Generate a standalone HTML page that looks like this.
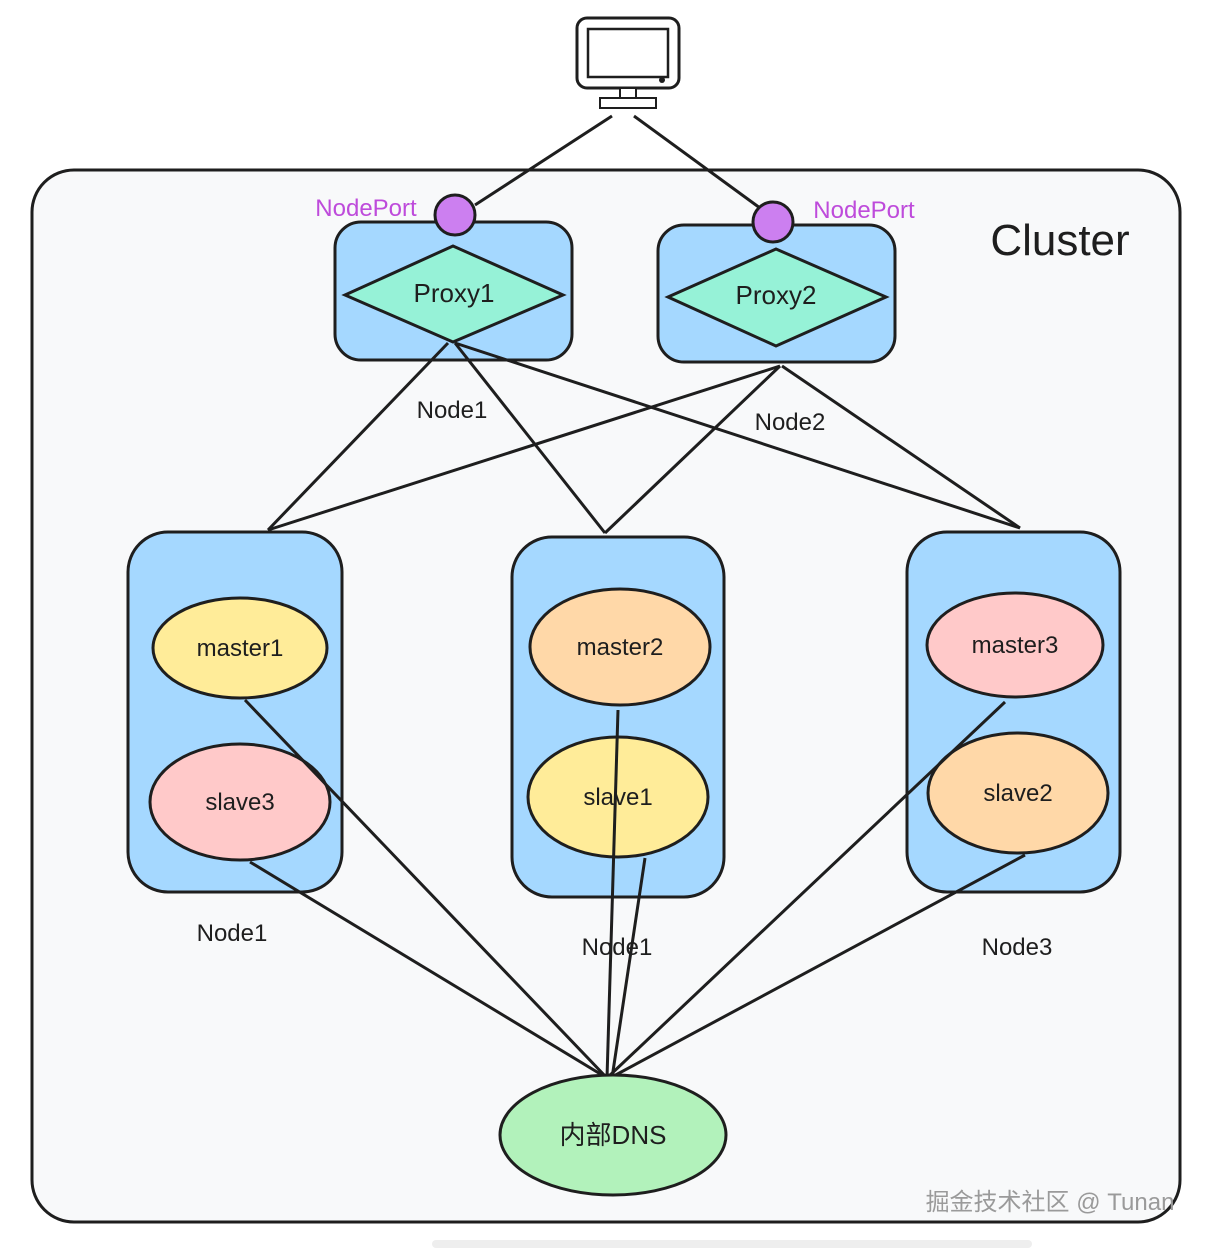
<!DOCTYPE html>
<html><head><meta charset="utf-8"><style>
html,body{margin:0;padding:0;background:#fff;}
svg{display:block;}
text{font-family:"Liberation Sans","Noto Sans CJK SC",sans-serif;}
</style></head><body>
<svg width="1212" height="1248" viewBox="0 0 1212 1248" xmlns="http://www.w3.org/2000/svg">
<rect x="32" y="170" width="1148" height="1052" rx="42" fill="#f8f9fa" stroke="#1e1e1e" stroke-width="3"/>
<!-- monitor -->
<rect x="577" y="18" width="102" height="70" rx="10" fill="#fff" stroke="#1e1e1e" stroke-width="3"/>
<rect x="588" y="29" width="80" height="48" fill="#fff" stroke="#1e1e1e" stroke-width="2.5"/>
<circle cx="662" cy="80" r="3" fill="#1e1e1e"/>
<rect x="620" y="88" width="16" height="10" fill="#fff" stroke="#1e1e1e" stroke-width="2"/>
<rect x="600" y="98" width="56" height="10" fill="#fff" stroke="#1e1e1e" stroke-width="2"/>
<!-- proxy boxes -->
<rect x="335" y="222" width="237" height="138" rx="26" fill="#a5d8ff" stroke="#1e1e1e" stroke-width="3"/>
<rect x="658" y="225" width="237" height="137" rx="26" fill="#a5d8ff" stroke="#1e1e1e" stroke-width="3"/>
<polygon points="345,295 453,246 563,295 453,342" fill="#96f2d7" stroke="#1e1e1e" stroke-width="3"/>
<polygon points="668,297 776,249 886,297 776,346" fill="#96f2d7" stroke="#1e1e1e" stroke-width="3"/>
<text x="454" y="302" font-size="26" text-anchor="middle" fill="#1e1e1e">Proxy1</text>
<text x="776" y="304" font-size="26" text-anchor="middle" fill="#1e1e1e">Proxy2</text>
<!-- lines monitor -->
<g stroke="#1e1e1e" stroke-width="3" fill="none">
<line x1="612" y1="116" x2="475" y2="205"/>
<line x1="634" y1="116" x2="760" y2="208"/>
<line x1="448" y1="343" x2="268" y2="530"/>
<line x1="455" y1="343" x2="605" y2="533"/>
<line x1="455" y1="343" x2="1020" y2="528"/>
<line x1="780" y1="366" x2="268" y2="530"/>
<line x1="780" y1="366" x2="605" y2="533"/>
<line x1="782" y1="366" x2="1020" y2="528"/>
</g>
<circle cx="455" cy="215" r="20" fill="#cc7ff0" stroke="#1e1e1e" stroke-width="3"/>
<circle cx="773" cy="222" r="20" fill="#cc7ff0" stroke="#1e1e1e" stroke-width="3"/>
<text x="366" y="216" font-size="24" text-anchor="middle" fill="#be4bdb">NodePort</text>
<text x="864" y="218" font-size="24" text-anchor="middle" fill="#be4bdb">NodePort</text>
<text x="1060" y="255" font-size="44" text-anchor="middle" fill="#1e1e1e">Cluster</text>
<text x="452" y="418" font-size="24" text-anchor="middle" fill="#1e1e1e">Node1</text>
<text x="790" y="430" font-size="24" text-anchor="middle" fill="#1e1e1e">Node2</text>
<!-- node boxes -->
<rect x="128" y="532" width="214" height="360" rx="40" fill="#a5d8ff" stroke="#1e1e1e" stroke-width="3"/>
<rect x="512" y="537" width="212" height="360" rx="40" fill="#a5d8ff" stroke="#1e1e1e" stroke-width="3"/>
<rect x="907" y="532" width="213" height="360" rx="40" fill="#a5d8ff" stroke="#1e1e1e" stroke-width="3"/>
<ellipse cx="240" cy="648" rx="87" ry="50" fill="#ffec99" stroke="#1e1e1e" stroke-width="3"/>
<ellipse cx="240" cy="802" rx="90" ry="58" fill="#ffc9c9" stroke="#1e1e1e" stroke-width="3"/>
<ellipse cx="620" cy="647" rx="90" ry="58" fill="#ffd8a8" stroke="#1e1e1e" stroke-width="3"/>
<ellipse cx="618" cy="797" rx="90" ry="60" fill="#ffec99" stroke="#1e1e1e" stroke-width="3"/>
<ellipse cx="1015" cy="645" rx="88" ry="52" fill="#ffc9c9" stroke="#1e1e1e" stroke-width="3"/>
<ellipse cx="1018" cy="793" rx="90" ry="60" fill="#ffd8a8" stroke="#1e1e1e" stroke-width="3"/>
<g stroke="#1e1e1e" stroke-width="3" fill="none">
<line x1="245" y1="700" x2="607" y2="1078"/>
<line x1="250" y1="862" x2="607" y2="1078"/>
<line x1="618" y1="710" x2="607" y2="1078"/>
<line x1="645" y1="858" x2="612" y2="1078"/>
<line x1="1005" y1="702" x2="607" y2="1078"/>
<line x1="1025" y1="855" x2="610" y2="1078"/>
</g>
<g font-size="24" text-anchor="middle" fill="#1e1e1e">
<text x="240" y="656">master1</text>
<text x="240" y="810">slave3</text>
<text x="620" y="655">master2</text>
<text x="618" y="805">slave1</text>
<text x="1015" y="653">master3</text>
<text x="1018" y="801">slave2</text>
<text x="232" y="941">Node1</text>
<text x="617" y="955">Node1</text>
<text x="1017" y="955">Node3</text>
</g>
<ellipse cx="613" cy="1135" rx="113" ry="60" fill="#b2f2bb" stroke="#1e1e1e" stroke-width="3"/>
<text x="613" y="1144" font-size="26" text-anchor="middle" fill="#1e1e1e">内部DNS</text>
<text x="1050" y="1210" font-size="24" text-anchor="middle" fill="#9a9a9a">掘金技术社区 @ Tunan</text>
<rect x="432" y="1240" width="600" height="8" rx="4" fill="#eeeeee"/>
</svg>
</body></html>
